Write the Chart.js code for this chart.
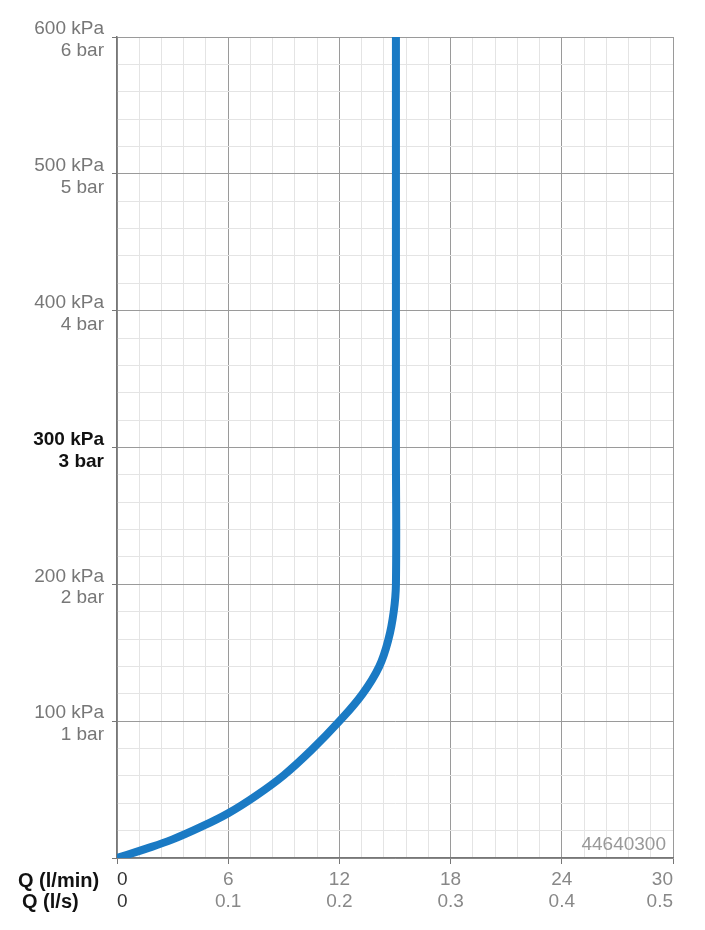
<!DOCTYPE html>
<html>
<head>
<meta charset="utf-8">
<script src="https://cdn.jsdelivr.net/npm/chart.js@4/dist/chart.umd.min.js"></script>
<style>
  html, body { margin: 0; padding: 0; background: #fff; }
  #container { width: 705px; height: 930px; position: relative; }
</style>
</head>
<body>
<div id="container"><canvas id="chartcanvas"></canvas></div>
<script>
// flow / pressure curve
var flowLpm     = [0, 1.5, 3, 4.5, 6, 7.5, 9, 10.5, 12, 13.25, 14.15, 14.65, 14.93, 15.05, 15.05, 15.05];
var pressureKpa = [0, 6.5, 13.6, 22.5, 32.7, 45.5, 60.5, 79, 100, 120, 140, 160, 180, 200, 300, 600];

// tick labels
var xTicksLpm = [0, 6, 12, 18, 24, 30];
var xTicksLps = ['0', '0.1', '0.2', '0.3', '0.4', '0.5'];
var yTicksKpa = [100, 200, 300, 400, 500, 600];
var yTicksBar = ['1 bar', '2 bar', '3 bar', '4 bar', '5 bar', '6 bar'];

var sans = '"Liberation Sans", Arial, Helvetica, sans-serif';

function isMajor(v, step) {
    var r = v / step;
    return Math.abs(r - Math.round(r)) < 1e-6;
}

var points = flowLpm.map(function (q, i) { return { x: q, y: pressureKpa[i] }; });

// axis captions left of the x labels + drawing number
var extraText = {
    id: 'extraText',
    afterDraw: function (chart) {
        var c = chart.ctx, area = chart.chartArea;
        c.save();
        c.textBaseline = 'middle';
        c.textAlign = 'left';
        c.fillStyle = '#111';
        c.font = 'bold 20px ' + sans;
        c.fillText('Q (l/min)', 18, area.bottom + 23);
        c.fillText('Q (l/s)', 22, area.bottom + 44);
        c.textAlign = 'right';
        c.fillStyle = '#999';
        c.font = '19px ' + sans;
        c.fillText('44640300', area.right - 7, area.bottom - 13);
        c.restore();
    }
};

var ctx = document.getElementById('chartcanvas');
var myChart = new Chart(ctx, {
    type: 'line',
    data: {
        datasets: [{
            data: points,
            borderColor: '#1a7ac4',
            borderWidth: 8,
            pointRadius: 0,
            fill: false,
            tension: 0.4,
        }],
    },
    options: {
        responsive: true,
        maintainAspectRatio: false,
        animation: false,
        layout: { padding: { left: 0, right: 32, top: 37, bottom: 0 } },
        plugins: {
            legend: { display: false },
            tooltip: { enabled: false },
        },
        scales: {
            x: {
                type: 'linear',
                position: 'bottom',
                min: 0,
                max: 30,
                afterFit: function (scale) { scale.height = 72; },
                border: { color: '#777', width: 1.5 },
                grid: {
                    color: function (c) { return isMajor(c.tick.value, 6) ? '#9a9a9a' : '#e4e4e4'; },
                    tickColor: function (c) { return isMajor(c.tick.value, 6) ? '#777' : 'rgba(0,0,0,0)'; },
                    lineWidth: 1,
                    tickLength: 6,
                },
                ticks: {
                    stepSize: 1.2,
                    autoSkip: false,
                    maxRotation: 0,
                    minRotation: 0,
                    align: 'inner',
                    padding: 5,
                    color: function (c) { return c.tick.value === 0 ? '#333' : '#888'; },
                    font: { family: sans, size: 19, lineHeight: 1.15 },
                    callback: function (v) {
                        var i = xTicksLpm.findIndex(function (t) { return Math.abs(t - v) < 1e-6; });
                        return i < 0 ? '' : [String(xTicksLpm[i]), xTicksLps[i]];
                    },
                },
            },
            y: {
                type: 'linear',
                position: 'left',
                min: 0,
                max: 600,
                afterFit: function (scale) { scale.width = 117; },
                border: { color: '#777', width: 1.5 },
                grid: {
                    color: function (c) { return isMajor(c.tick.value, 100) ? '#9a9a9a' : '#e4e4e4'; },
                    tickColor: function (c) { return isMajor(c.tick.value, 100) ? '#777' : 'rgba(0,0,0,0)'; },
                    lineWidth: 1,
                    tickLength: 5,
                },
                ticks: {
                    stepSize: 20,
                    autoSkip: false,
                    padding: 8,
                    labelOffset: 3,
                    color: function (c) { return c.tick.value === 300 ? '#111' : '#777'; },
                    font: function (c) {
                        return {
                            family: sans,
                            size: 19,
                            lineHeight: 1.15,
                            weight: c.tick && c.tick.value === 300 ? 'bold' : 'normal',
                        };
                    },
                    callback: function (v) {
                        var i = yTicksKpa.indexOf(Math.round(v));
                        if (i < 0 || !isMajor(v, 100)) return '';
                        return [yTicksKpa[i] + ' kPa', yTicksBar[i]];
                    },
                },
            },
        },
    },
    plugins: [extraText],
});
</script>
</body>
</html>
